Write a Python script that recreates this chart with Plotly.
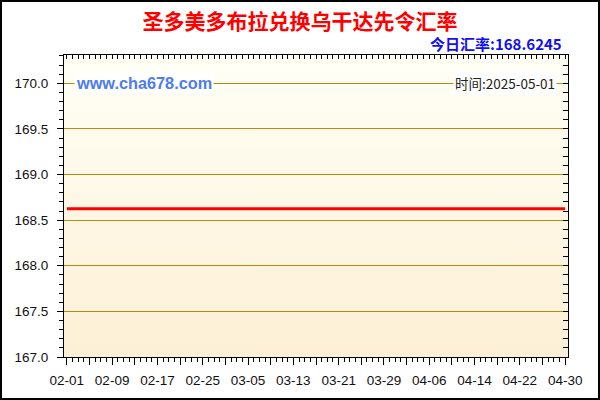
import pandas as pd
import plotly.graph_objects as go

# data
dates = ["2025-02-01", "2025-04-30"]
rates = [168.6245, 168.6245]
tick_labels = ["02-01", "02-09", "02-17", "02-25", "03-05", "03-13",
               "03-21", "03-29", "04-06", "04-14", "04-22", "04-30"]
title = "圣多美多布拉兑换乌干达先令汇率"
today_rate = "今日汇率:168.6245"
stamp = "时间:2025-05-01"

# plot box in pixels (600x400 page)
L, R, T, B = 64, 568, 55, 357
W, H = R - L, B - T


def px(x):
    return (x - L) / W


def py(y):
    return (B - y) / H


# major ticks every 4 days, label every other one
tick_vals = pd.date_range("2025-02-01", "2025-04-30", freq="4D")
tick_text = []
for i in range(len(tick_vals)):
    tick_text.append(tick_labels[i // 2] if i % 2 == 0 else "")

DAY = 86400000
axis_font = dict(family="Liberation Sans, Arial", size=13.5, color="#111")

fig = go.Figure()
fig.add_trace(go.Scatter(x=dates, y=rates, mode="lines",
                         line=dict(color="#ff0000", width=3),
                         hoverinfo="x+y", showlegend=False))
# dummy trace so the mirrored top/right axes get drawn
fig.add_trace(go.Scatter(x=dates, y=rates, xaxis="x2", yaxis="y2", mode="lines",
                         line=dict(width=0), hoverinfo="skip", showlegend=False))

# soft vertical gradient behind the plot
grad = ("data:image/svg+xml;charset=utf-8,"
        "<svg xmlns='http://www.w3.org/2000/svg' width='10' height='100' preserveAspectRatio='none'>"
        "<defs><linearGradient id='g' x1='0' y1='0' x2='0' y2='1'>"
        "<stop offset='0' stop-color='%23fffff6'/><stop offset='1' stop-color='%23fdf0d5'/>"
        "</linearGradient></defs><rect width='10' height='100' fill='url(%23g)'/></svg>")
fig.add_layout_image(dict(source=grad, xref="paper", yref="paper", x=0, y=1,
                          sizex=1, sizey=1, sizing="stretch", layer="below",
                          xanchor="left", yanchor="top"))

fig.update_layout(
    width=600, height=400,
    margin=dict(l=L, r=600 - R, t=T, b=400 - B),
    paper_bgcolor="white", plot_bgcolor="rgba(0,0,0,0)",
    title=dict(text="<b>" + title + "</b>", x=0.5, xref="container", xanchor="center",
               y=1 - 22 / 400, yref="container", yanchor="middle",
               font=dict(family="Noto Sans CJK SC", size=21, color="#ff0000")),
    xaxis=dict(type="date", range=["2025-01-31 12:00", "2025-04-30 12:00"],
               tickmode="array", tickvals=tick_vals, ticktext=tick_text,
               ticks="outside", ticklen=7, tickcolor="black", tickwidth=1,
               minor=dict(ticks="outside", ticklen=4, dtick=DAY, tick0="2025-02-01",
                          tickcolor="black", showgrid=False),
               showline=True, linecolor="black", linewidth=1, showgrid=False,
               zeroline=False, tickfont=axis_font, ticklabelstandoff=4, fixedrange=True),
    yaxis=dict(range=[167.0, 170.31], tick0=167, dtick=0.5, tickformat=".1f",
               ticks="outside", ticklen=6, tickcolor="black",
               minor=dict(ticks="outside", ticklen=4, dtick=0.1, tick0=167,
                          tickcolor="black", showgrid=False),
               showline=True, linecolor="black", linewidth=1,
               showgrid=True, gridcolor="#bb8a0c", gridwidth=1,
               zeroline=False, tickfont=axis_font, ticklabelstandoff=6, fixedrange=True),
    xaxis2=dict(type="date", overlaying="x", matches="x", side="top",
                showticklabels=False, ticks="inside", ticklen=4, tickcolor="black",
                tickmode="linear", tick0="2025-02-01", dtick=DAY,
                showline=True, linecolor="black", showgrid=False, zeroline=False),
    yaxis2=dict(overlaying="y", matches="y", side="right",
                showticklabels=False, ticks="inside", ticklen=5, tickcolor="black",
                tick0=167, dtick=0.1,
                showline=True, linecolor="black", showgrid=False, zeroline=False),
)

# watermark and date stamp sitting on the 170.0 gridline
fig.add_annotation(x=px(74), xref="paper", y=170.0, yref="y", xanchor="left",
                   text="<b>www.cha678.com</b>", showarrow=False, bgcolor="white",
                   borderpad=1,
                   font=dict(family="Liberation Sans, Arial", size=16.3, color="#4d7cf0"))
fig.add_annotation(x=px(557), xref="paper", y=170.0, yref="y", xanchor="right",
                   text=stamp, showarrow=False, bgcolor="white", borderpad=1,
                   font=dict(family="Noto Sans CJK SC", size=13.5, color="#222"))
fig.add_annotation(x=px(564), xref="paper", y=py(43), yref="paper", xanchor="right",
                   yanchor="middle", text="<b>" + today_rate + "</b>", showarrow=False,
                   font=dict(family="Noto Sans CJK SC", size=15, color="#1010f0"))

# frame round the whole picture
fig.add_shape(type="rect", xref="paper", yref="paper",
              x0=px(1), x1=px(599), y0=py(399), y1=py(1),
              line=dict(color="black", width=2), layer="above")

# the page body has a default 8px margin; drop it so the figure sits at 0,0
fig.write_html("out.html", config={"displayModeBar": False},
               post_script="document.body.style.margin='0';")
